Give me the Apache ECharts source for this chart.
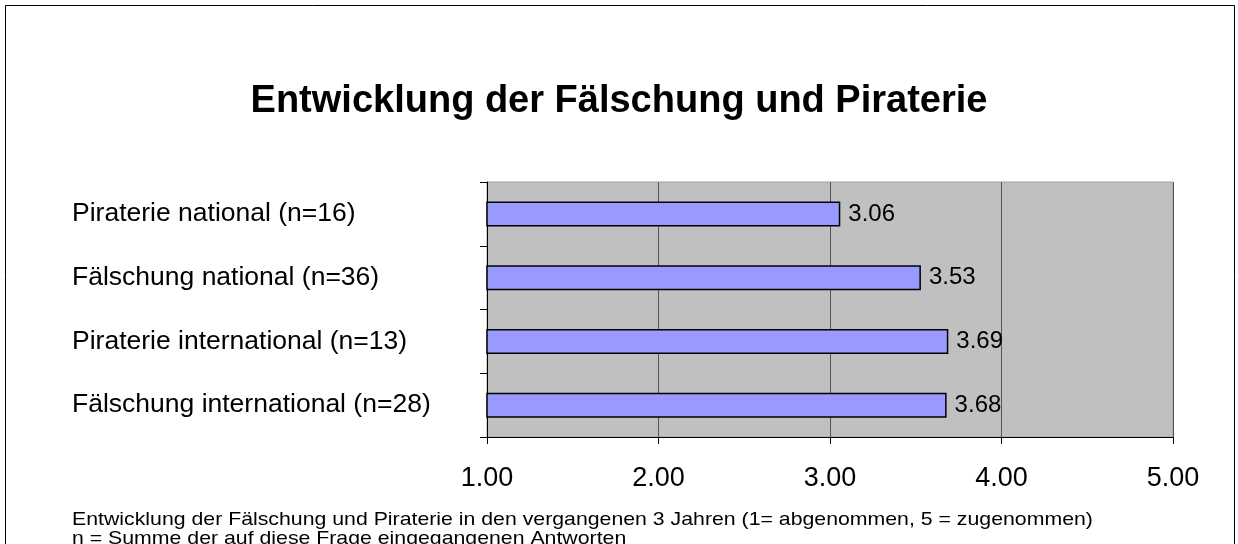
<!DOCTYPE html>
<html>
<head>
<meta charset="utf-8">
<script src="https://cdn.jsdelivr.net/npm/echarts@6/dist/echarts.min.js"></script>
<style>
html, body { margin: 0; padding: 0; background: #fff; }
#chart { width: 1238px; height: 544px; }
</style>
</head>
<body>
<div id="chart"></div>
<script>
// categories from top to bottom
var kategorien = ['Piraterie national (n=16)', 'Fälschung national (n=36)', 'Piraterie international (n=13)', 'Fälschung international (n=28)'];
var werte = [3.06, 3.53, 3.69, 3.68];
var achseMin = 1;
var achseMax = 5;

var schrift = 'Liberation Sans, Arial, sans-serif';
var myChart = echarts.init(document.getElementById('chart'));
var option = {
    backgroundColor: '#fff',
    animation: false,
    textStyle: { fontFamily: schrift },
    title: {
        text: 'Entwicklung der Fälschung und Piraterie',
        left: 'center',
        top: 78,
        textStyle: { fontSize: 38, fontWeight: 'bold', color: '#000', fontFamily: schrift }
    },
    grid: {
        left: 487,
        right: 65,
        top: 182,
        bottom: 107,
        show: true,
        backgroundColor: '#C0C0C0',
        borderColor: '#A0A0A0',
        borderWidth: 1
    },
    xAxis: {
        type: 'value',
        min: achseMin,
        max: achseMax,
        interval: 1,
        axisLine: { show: true, lineStyle: { color: '#000', width: 1 } },
        axisTick: { show: true, length: 7, lineStyle: { color: '#000' } },
        axisLabel: {
            margin: 28,
            fontSize: 27,
            color: '#000',
            formatter: function(v) { return v.toFixed(2); }
        },
        splitLine: { show: true, lineStyle: { color: '#555', width: 1 } }
    },
    yAxis: {
        type: 'category',
        inverse: true,
        data: kategorien,
        axisLine: { show: true, lineStyle: { color: '#000', width: 1 } },
        axisTick: { show: true, length: 7, lineStyle: { color: '#000' } },
        axisLabel: {
            align: 'left',
            margin: 415,
            fontSize: 26.5,
            color: '#000'
        },
        splitLine: { show: false }
    },
    series: [{
        type: 'bar',
        data: werte,
        barWidth: 25,
        itemStyle: {
            color: '#9999FF',
            borderColor: '#000',
            borderWidth: 1.5
        },
        label: {
            show: true,
            position: 'right',
            distance: 8,
            fontSize: 24,
            color: '#000',
            formatter: function(p) { return p.value.toFixed(2); }
        }
    }],
    graphic: [
        {
            type: 'rect',
            shape: { x: 5.5, y: 5.5, width: 1229, height: 600 },
            style: { fill: 'none', stroke: '#000', lineWidth: 1 },
            silent: true
        },
        {
            type: 'text',
            left: 72,
            top: 510,
            scaleX: 1.12,
            style: {
                text: 'Entwicklung der Fälschung und Piraterie in den vergangenen 3 Jahren (1= abgenommen, 5 = zugenommen)',
                fill: '#000',
                font: '19px ' + schrift
            }
        },
        {
            type: 'text',
            left: 72,
            top: 529,
            scaleX: 1.12,
            style: {
                text: 'n = Summe der auf diese Frage eingegangenen Antworten',
                fill: '#000',
                font: '19px ' + schrift
            }
        }
    ]
};
myChart.setOption(option, true);
</script>
</body>
</html>
